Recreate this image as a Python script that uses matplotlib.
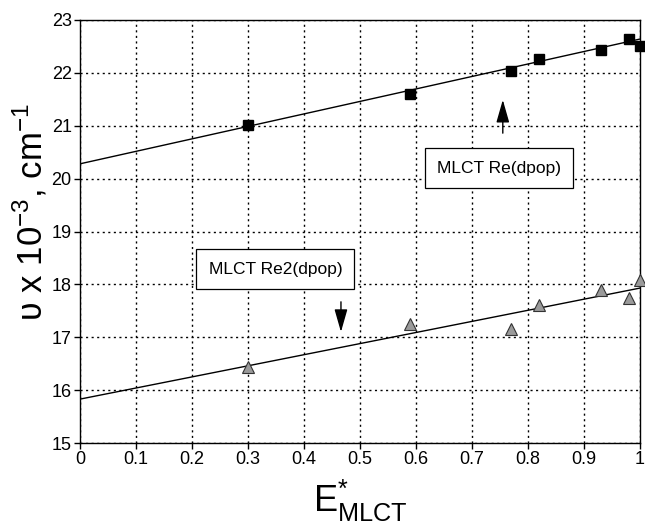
import numpy as np
import matplotlib
matplotlib.use("Agg")
import matplotlib.pyplot as plt

plt.rcParams["font.family"] = ["Liberation Sans", "DejaVu Sans"]
plt.rcParams["mathtext.fontset"] = "custom"
plt.rcParams["mathtext.rm"] = "Liberation Sans"
plt.rcParams["mathtext.it"] = "Liberation Sans"

# Re(dpop) MLCT band (squares)
x_re = [0.30, 0.59, 0.77, 0.82, 0.93, 0.98, 1.00]
y_re = [21.01, 21.60, 22.04, 22.27, 22.43, 22.65, 22.51]
fit_re = (20.28, 2.36)   # intercept, slope

# Re2(dpop) MLCT band (triangles)
x_re2 = [0.30, 0.59, 0.77, 0.82, 0.93, 0.98, 1.00]
y_re2 = [16.43, 17.25, 17.16, 17.61, 17.90, 17.74, 18.09]
fit_re2 = (15.83, 2.10)

x_ticks = [0, 0.1, 0.2, 0.3, 0.4, 0.5, 0.6, 0.7, 0.8, 0.9, 1]
x_tick_labels = ["0", "0.1", "0.2", "0.3", "0.4", "0.5", "0.6", "0.7", "0.8", "0.9", "1"]
y_ticks = [15, 16, 17, 18, 19, 20, 21, 22, 23]

fig = plt.figure(figsize=(6.45, 5.28), dpi=100)
ax = fig.add_axes([80 / 645, 85 / 528, 560 / 645, 423 / 528])

xl = np.array([0.0, 1.0])
ax.plot(xl, fit_re[0] + fit_re[1] * xl, color="black", lw=1.0, zorder=3)
ax.plot(xl, fit_re2[0] + fit_re2[1] * xl, color="black", lw=1.0, zorder=3)

ax.plot(x_re, y_re, ls="none", marker="s", ms=7, color="black", zorder=4, clip_on=False)
ax.plot(x_re2, y_re2, ls="none", marker="^", ms=8, mfc="#9a9a9a",
        mec="#333333", mew=0.8, zorder=4, clip_on=False)

ax.set_xlim(0, 1)
ax.set_ylim(15, 23)
ax.set_xticks(x_ticks)
ax.set_xticklabels(x_tick_labels)
ax.set_yticks(y_ticks)
ax.tick_params(axis="both", labelsize=13, direction="out", length=4, width=1, pad=2)
ax.grid(True, color="black", linestyle=(0, (1.5, 2.5)), linewidth=1.0)
for sp in ax.spines.values():
    sp.set_linewidth(1.0)

ax.set_ylabel("ʋ x 10$^{-3}$, cm$^{-1}$", fontsize=25)
ax.yaxis.set_label_coords(-0.055, 0.545)
ax.set_xlabel(r"E$^{*}_{\mathrm{MLCT}}$", fontsize=26, labelpad=7)

# labels with arrows
box = dict(boxstyle="square,pad=0.7", fc="white", ec="black", lw=0.9)
ax.text(0.748, 20.2, "MLCT Re(dpop)", fontsize=12.5, ha="center", va="center", bbox=box, zorder=5)
ax.text(0.349, 18.29, "MLCT Re2(dpop)", fontsize=12.5, ha="center", va="center", bbox=box, zorder=5)
arrow = dict(arrowstyle="-|>,head_width=0.4,head_length=1.4", color="black",
             lw=1.0, shrinkA=0, shrinkB=0)
ax.annotate("", xy=(0.755, 21.49), xytext=(0.755, 20.86), arrowprops=arrow)
ax.annotate("", xy=(0.466, 17.10), xytext=(0.466, 17.67), arrowprops=arrow)

fig.savefig("out.png", dpi=100)
